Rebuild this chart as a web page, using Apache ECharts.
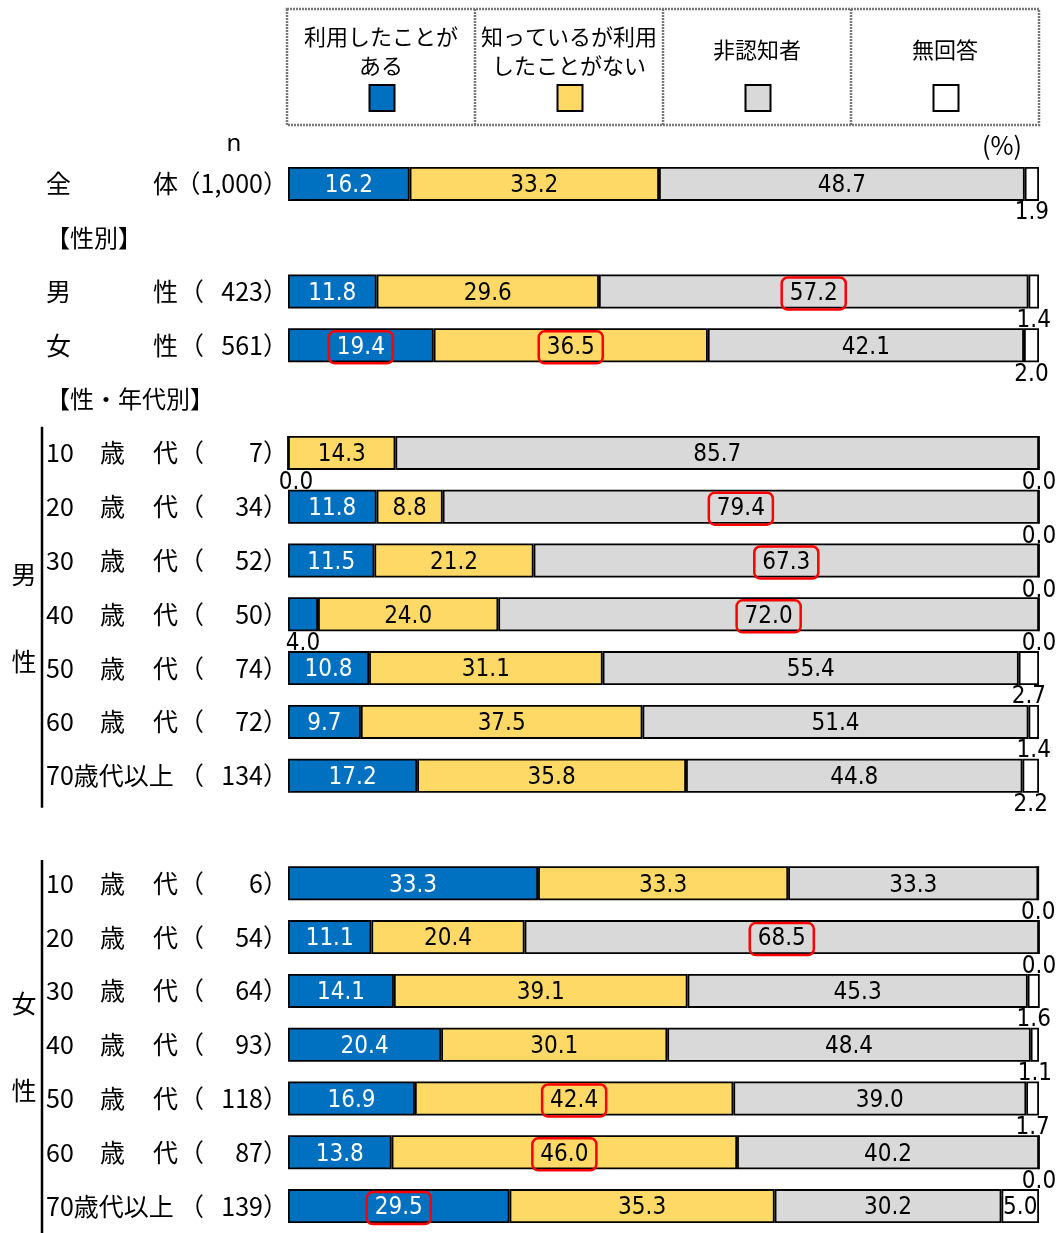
<!DOCTYPE html>
<html>
<head>
<meta charset="utf-8">
<script src="https://cdn.jsdelivr.net/npm/echarts@6/dist/echarts.min.js"></script>
<style>
  html, body { margin: 0; padding: 0; background: #fff; }
  #chart { width: 1057px; height: 1233px; }
</style>
</head>
<body>
<div id="chart"></div>
<script>
const categories = ['全体', '【性別】', '男性', '女性', '【性・年代別】',
  '10歳代', '20歳代', '30歳代', '40歳代', '50歳代', '60歳代', '70歳代以上', '',
  '10歳代', '20歳代', '30歳代', '40歳代', '50歳代', '60歳代', '70歳代以上'];
const sampleSizes = [1000, null, 423, 561, null, 7, 34, 52, 50, 74, 72, 134, null, 6, 54, 64, 93, 118, 87, 139];

const seriesNames = ['利用したことがある', '知っているが利用したことがない', '非認知者', '無回答'];
const legendLines = [['利用したことが', 'ある'], ['知っているが利用', 'したことがない'], ['非認知者'], ['無回答']];
const colors = ['#0070c0', '#ffd966', '#d9d9d9', '#ffffff'];

const usedValues = [16.2, null, 11.8, 19.4, null, 0.0, 11.8, 11.5, 4.0, 10.8, 9.7, 17.2, null, 33.3, 11.1, 14.1, 20.4, 16.9, 13.8, 29.5];
const knownValues = [33.2, null, 29.6, 36.5, null, 14.3, 8.8, 21.2, 24.0, 31.1, 37.5, 35.8, null, 33.3, 20.4, 39.1, 30.1, 42.4, 46.0, 35.3];
const unawareValues = [48.7, null, 57.2, 42.1, null, 85.7, 79.4, 67.3, 72.0, 55.4, 51.4, 44.8, null, 33.3, 68.5, 45.3, 48.4, 39.0, 40.2, 30.2];
const noAnswerValues = [1.9, null, 1.4, 2.0, null, 0.0, 0.0, 0.0, 0.0, 2.7, 1.4, 2.2, null, 0.0, 0.0, 1.6, 1.1, 1.7, 0.0, 5.0];

// [row, series] cells circled in red
const highlighted = [[2, 2], [3, 0], [3, 1], [6, 2], [7, 2], [8, 2], [14, 2], [17, 1], [18, 1], [19, 0]];

const GRID_TOP = 157;
const ROW_H = 54.15;
const GRID_LEFT = 288;
const GRID_RIGHT = 18;
const rowY = i => GRID_TOP + ROW_H * (i + 0.5);

const numFont = "'Liberation Sans Narrow', 'DejaVu Sans Condensed', sans-serif";
const jpFont = "'Noto Sans CJK JP', sans-serif";

function labelFor(s, v, i) {
  if (v < 5) {
    // small shares sit under the bar; a zero at the far left is nudged right
    return { position: 'bottom', distance: 0, color: '#000', offset: (s === 0 && v === 0) ? [8, 0] : [0, 0] };
  }
  const lab = { position: 'inside', color: s === 0 ? '#fff' : '#000', offset: [0, 2] };
  if (highlighted.some(([r, c]) => r === i && c === s)) {
    Object.assign(lab, { borderColor: '#ff0000', borderWidth: 2.5, borderRadius: 6, padding: [5, 8, 3, 8] });
  }
  return lab;
}

function rowLabel(name, i) {
  if (!name) return '';
  if (name[0] === '【') return `{h|${name}}`;
  const n = sampleSizes[i];
  let head;
  if (name.length === 2) head = `{w|${name[0]}}{c|${name[1]}}`;
  else if (name === '70歳代以上') head = `{f|${name}}`;
  else head = `{a|${name.slice(0, 2)}}{b|${name[2]}}{c|${name[3]}}`;
  const num = n.toLocaleString('en-US');
  return n >= 1000 ? `${head}{g|（${num}）}` : `${head}{d|（}{e|${num}）}`;
}

const allValues = [usedValues, knownValues, unawareValues, noAnswerValues];

const series = allValues.map((vals, s) => ({
  name: seriesNames[s],
  type: 'bar',
  stack: 'total',
  barWidth: 34,
  itemStyle: { color: colors[s], borderColor: '#000', borderWidth: 1.8 },
  label: {
    show: true,
    fontFamily: numFont,
    fontSize: 24,
    formatter: p => p.value.toFixed(1)
  },
  data: vals.map((v, i) => v == null ? '-' : { value: v, label: labelFor(s, v, i) })
}));

const cellX = [287, 475, 663, 851, 1039];
const dotted = { stroke: '#777', lineWidth: 2.5, lineDash: [2, 1] };
const graphic = [
  { type: 'rect', shape: { x: 287, y: 9, width: 752, height: 116 }, style: Object.assign({ fill: 'none' }, dotted) }
];
for (let k = 1; k < 4; k++) {
  graphic.push({ type: 'line', shape: { x1: cellX[k], y1: 9, x2: cellX[k], y2: 125 }, style: dotted });
}
legendLines.forEach((lines, k) => {
  graphic.push({
    type: 'text',
    x: (cellX[k] + cellX[k + 1]) / 2,
    y: lines.length > 1 ? 51 : 50,
    style: {
      text: lines.join('\n'), fill: '#000', font: `22px ${jpFont}`,
      align: 'center', verticalAlign: 'middle', lineHeight: 29
    }
  });
});
graphic.push(
  { type: 'text', x: 234, y: 144, style: { text: 'n', fill: '#000', font: "24px 'Noto Sans', sans-serif", align: 'center', verticalAlign: 'middle' } },
  { type: 'text', x: 1002, y: 145, style: { text: '(%)', fill: '#000', font: `25px ${jpFont}`, align: 'center', verticalAlign: 'middle' } }
);
// sex brackets on the left
[[5, 11, '男', '性'], [13, 19, '女', '性']].forEach(([a, b, c1, c2]) => {
  const y1 = rowY(a) - 28, y2 = Math.min(rowY(b) + 28, 1233);
  const mid = (y1 + y2) / 2;
  graphic.push(
    { type: 'line', shape: { x1: 42, y1, x2: 42, y2 }, style: { stroke: '#000', lineWidth: 2.5 } },
    { type: 'text', x: 24, y: mid - 43, style: { text: c1, fill: '#000', font: `25px ${jpFont}`, align: 'center', verticalAlign: 'middle' } },
    { type: 'text', x: 24, y: mid + 44, style: { text: c2, fill: '#000', font: `25px ${jpFont}`, align: 'center', verticalAlign: 'middle' } }
  );
});

const swatchCenters = [381, 569, 757, 945];

const option = {
  backgroundColor: '#fff',
  animation: false,
  grid: { left: GRID_LEFT, right: GRID_RIGHT, top: GRID_TOP, height: ROW_H * categories.length },
  legend: seriesNames.map((name, k) => ({
    data: [name],
    left: swatchCenters[k] - 12.5,
    top: 84,
    padding: 0,
    itemGap: 0,
    itemWidth: 25,
    itemHeight: 26,
    icon: 'rect',
    selectedMode: false,
    formatter: () => ''
  })),
  xAxis: { type: 'value', min: 0, max: 100, show: false },
  yAxis: {
    type: 'category',
    inverse: true,
    data: categories,
    axisLine: { show: false },
    axisTick: { show: false },
    axisLabel: {
      margin: 0,
      color: '#000',
      fontSize: 25,
      fontFamily: jpFont,
      formatter: rowLabel,
      rich: {
        a: { width: 54, align: 'left', fontSize: 25, fontFamily: jpFont },
        b: { width: 53, align: 'left', fontSize: 25, fontFamily: jpFont },
        w: { width: 107, align: 'left', fontSize: 25, fontFamily: jpFont },
        c: { width: 26, align: 'left', fontSize: 25, fontFamily: jpFont },
        d: { width: 25, align: 'left', fontSize: 25, fontFamily: jpFont },
        e: { width: 84, align: 'right', fontSize: 25, fontFamily: jpFont },
        f: { width: 133, align: 'left', fontSize: 25, fontFamily: jpFont },
        g: { width: 109, align: 'right', fontSize: 25, fontFamily: jpFont },
        h: { width: 242, align: 'left', fontSize: 24, fontFamily: jpFont }
      }
    }
  },
  graphic,
  series
};

const chart = echarts.init(document.getElementById('chart'));
chart.setOption(option);
</script>
</body>
</html>
